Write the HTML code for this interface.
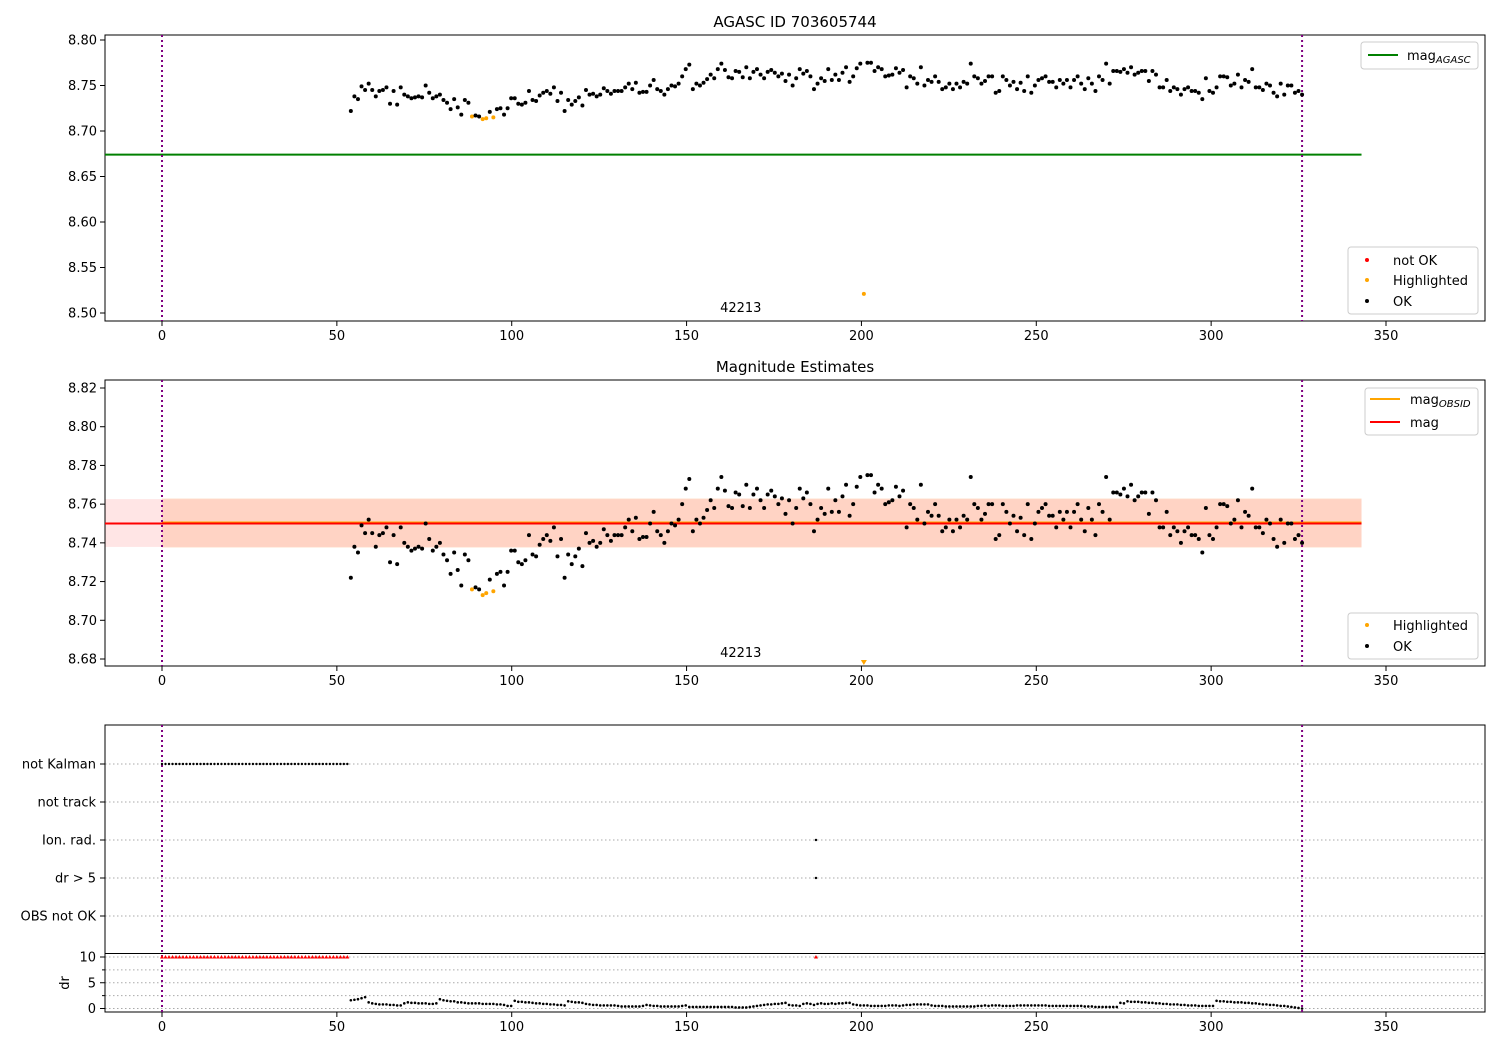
<!DOCTYPE html>
<html><head><meta charset="utf-8"><style>
body{margin:0;background:#fff}
svg{display:block;font-family:"DejaVu Sans","Liberation Sans",sans-serif;font-size:13px}
</style></head><body>
<svg id="fig" width="1500" height="1050" viewBox="0 0 1500 1050"></svg>
<script>
const magValues=[8.722,8.738,8.735,8.749,8.745,8.752,8.745,8.738,8.744,8.745,8.748,8.730,8.744,8.729,8.748,8.740,8.738,8.736,8.737,8.738,8.737,8.750,8.742,8.736,8.738,8.740,8.734,8.731,8.724,8.735,8.726,8.718,8.734,8.731,8.716,8.717,8.716,8.713,8.714,8.721,8.715,8.724,8.725,8.718,8.725,8.736,8.736,8.730,8.729,8.731,8.744,8.734,8.733,8.739,8.742,8.744,8.741,8.748,8.733,8.742,8.722,8.734,8.729,8.733,8.737,8.728,8.745,8.740,8.741,8.738,8.740,8.747,8.744,8.741,8.744,8.744,8.744,8.748,8.752,8.746,8.753,8.742,8.743,8.743,8.750,8.756,8.746,8.744,8.740,8.746,8.750,8.749,8.752,8.760,8.768,8.773,8.746,8.752,8.750,8.753,8.757,8.762,8.758,8.768,8.774,8.767,8.759,8.758,8.766,8.765,8.759,8.770,8.758,8.765,8.768,8.762,8.758,8.765,8.767,8.764,8.760,8.763,8.755,8.762,8.750,8.758,8.768,8.763,8.766,8.760,8.746,8.752,8.758,8.755,8.768,8.756,8.762,8.756,8.764,8.770,8.754,8.760,8.769,8.774,8.521,8.775,8.775,8.766,8.770,8.768,8.760,8.761,8.762,8.769,8.764,8.767,8.748,8.760,8.758,8.752,8.770,8.750,8.756,8.754,8.760,8.754,8.746,8.748,8.752,8.746,8.752,8.748,8.754,8.752,8.774,8.760,8.758,8.752,8.755,8.760,8.760,8.742,8.744,8.760,8.756,8.750,8.754,8.746,8.753,8.744,8.760,8.742,8.750,8.756,8.758,8.760,8.754,8.754,8.748,8.756,8.752,8.756,8.748,8.756,8.760,8.752,8.746,8.758,8.752,8.744,8.760,8.756,8.774,8.752,8.766,8.766,8.765,8.768,8.764,8.770,8.762,8.764,8.766,8.766,8.755,8.766,8.762,8.748,8.748,8.756,8.744,8.748,8.746,8.740,8.746,8.748,8.744,8.744,8.742,8.735,8.758,8.744,8.742,8.748,8.760,8.760,8.759,8.750,8.752,8.762,8.748,8.756,8.754,8.768,8.748,8.748,8.745,8.752,8.750,8.742,8.738,8.752,8.740,8.750,8.750,8.742,8.744,8.740];
const highlightIdx=[34,37,38,40,144];
const drValues=[1.6,1.7,1.8,2.0,2.2,1.2,1.0,0.9,0.8,0.8,0.8,0.7,0.7,0.6,0.6,1.0,1.2,1.1,1.1,1.0,1.0,1.0,0.9,0.9,1.0,1.8,1.6,1.5,1.4,1.4,1.2,1.2,1.1,1.0,1.0,1.0,1.0,0.9,0.9,0.9,0.9,0.8,0.8,0.7,0.5,0.5,1.5,1.3,1.3,1.2,1.2,1.1,1.0,1.0,0.9,0.9,0.8,0.8,0.7,0.7,0.6,1.4,1.3,1.2,1.2,1.1,0.9,0.8,0.7,0.7,0.6,0.6,0.6,0.6,0.6,0.5,0.4,0.4,0.4,0.4,0.4,0.4,0.5,0.7,0.6,0.5,0.5,0.4,0.4,0.4,0.4,0.4,0.4,0.5,0.6,0.3,0.3,0.3,0.3,0.3,0.3,0.3,0.3,0.3,0.3,0.3,0.3,0.3,0.2,0.2,0.2,0.2,0.3,0.4,0.5,0.6,0.7,0.8,0.8,0.9,0.9,1.0,1.1,0.7,0.6,0.6,0.5,0.9,1.0,0.9,0.7,0.9,1.0,0.9,0.9,1.0,0.9,1.0,1.0,1.1,1.1,0.8,0.7,0.6,0.6,0.6,0.5,0.5,0.5,0.5,0.5,0.6,0.6,0.6,0.5,0.6,0.7,0.7,0.8,0.8,0.8,0.8,0.8,0.6,0.5,0.5,0.5,0.4,0.4,0.4,0.4,0.4,0.4,0.4,0.4,0.4,0.5,0.5,0.6,0.5,0.6,0.6,0.6,0.5,0.5,0.5,0.5,0.6,0.6,0.6,0.6,0.6,0.6,0.6,0.6,0.6,0.5,0.5,0.5,0.5,0.5,0.5,0.5,0.5,0.5,0.5,0.4,0.4,0.4,0.3,0.3,0.3,0.3,0.3,0.3,0.3,1.1,1.0,1.4,1.3,1.3,1.3,1.2,1.2,1.1,1.1,1.0,1.0,0.9,0.9,0.8,0.8,0.8,0.7,0.7,0.6,0.6,0.6,0.5,0.5,0.5,0.5,0.5,1.5,1.4,1.4,1.3,1.3,1.2,1.2,1.2,1.1,1.1,1.0,1.0,0.9,0.8,0.8,0.7,0.7,0.6,0.5,0.5,0.4,0.3,0.2,0.1,0.0];
const timeStart=54, timeEnd=326;
const notKalmanTimes=[0,1,2,3,4,5,6,7,8,9,10,11,12,13,14,15,16,17,18,19,20,21,22,23,24,25,26,27,28,29,30,31,32,33,34,35,36,37,38,39,40,41,42,43,44,45,46,47,48,49,50,51,52,53];
const ionRadTimes=[187];
const drBigTimes=[187];
const xTicks=[0,50,100,150,200,250,300,350];
const p1Ticks=[8.50,8.55,8.60,8.65,8.70,8.75,8.80];
const p2Ticks=[8.68,8.70,8.72,8.74,8.76,8.78,8.80,8.82];
const categories=["not Kalman","not track","Ion. rad.","dr > 5","OBS not OK"];
const drTicks=[0,5,10];
const magAgasc=8.674, magMean=8.750, magObsid=8.7505, magLo=8.7379, magHi=8.7626, obsLo=8.7375, obsHi=8.763;
const obsidLabel="42213", obsidTime=165.5;

const NS="http://www.w3.org/2000/svg";
const svg=document.getElementById('fig');
function el(tag,attrs,parent){const e=document.createElementNS(NS,tag);for(const k in attrs)e.setAttribute(k,attrs[k]);(parent||svg).appendChild(e);return e;}
const L=105,R=1485;
const X=t=>162+(t-0)*(1386-162)/350;
const y1=v=>40+(8.80-v)*(313-40)/0.30;
const y2=v=>388+(8.82-v)*(659-388)/0.14;
const catY=i=>764+i*38;
const yDr=v=>1008.5-v*(1008.5-957)/10;
const n=magValues.length;
const tOf=i=>timeStart+i*(timeEnd-timeStart)/(n-1);
const nd=drValues.length;
const tDr=i=>timeStart+i*(timeEnd-timeStart)/(nd-1);

function xAxis(top,bottom,name){
  xTicks.forEach(t=>{
    el('line',{x1:X(t),x2:X(t),y1:bottom,y2:bottom+5,stroke:'#000'});
    const tx=el('text',{x:X(t),y:bottom+19,'text-anchor':'middle'});tx.textContent=t;
    
    
  });
}
function frame(top,bottom,name){
  const r=el('rect',{x:L,y:top,width:R-L,height:bottom-top,fill:'none',stroke:'#000','stroke-width':1});
  
  
}
function vlines(top,bottom){
  [0,326].forEach(t=>{const l=el('line',{x1:X(t),x2:X(t),y1:top,y2:bottom,stroke:'purple','stroke-width':2,'stroke-dasharray':'2,3'});
    
    });
}
function yTicks(ticks,f,name){
  ticks.forEach(v=>{el('line',{x1:L-5,x2:L,y1:f(v),y2:f(v),stroke:'#000'});
    const tx=el('text',{x:L-8,y:f(v)+4.5,'text-anchor':'end'});tx.textContent=v.toFixed(2);
    
    });
}
function legendBox(x,y,w,h){el('rect',{x:x,y:y,width:w,height:h,rx:3,fill:'#fff','fill-opacity':0.8,stroke:'#ccc'});}
function title(txt,y){const t=el('text',{x:795,y:y,'text-anchor':'middle','font-size':'15px'});t.textContent=txt;return t;}

// Panel 1
let t=title('AGASC ID 703605744',27);


frame(35,321,'agasc-panel');
yTicks(p1Ticks,y1,'agasc');xAxis(35,321,'agasc');
let gl=el('line',{x1:L,x2:X(343),y1:y1(magAgasc),y2:y1(magAgasc),stroke:'green','stroke-width':2});


vlines(35,321);
magValues.forEach((v,i)=>{const c=el('circle',{cx:X(tOf(i)),cy:y1(v),r:2,fill:highlightIdx.includes(i)?'orange':'#000'});
  
  });
t=el('text',{x:X(obsidTime),y:312,'text-anchor':'middle'});t.textContent=obsidLabel;


legendBox(1361,42,117,27);
el('line',{x1:1368,x2:1398,y1:55,y2:55,stroke:'green','stroke-width':2});
t=el('text',{x:1407,y:60});t.innerHTML='mag<tspan font-size="10px" font-style="italic" dy="3">AGASC</tspan>';


legendBox(1348,247,130,67);
[['not OK','red',260],['Highlighted','orange',280],['OK','#000',301]].forEach(([lab,col,yy])=>{
  el('circle',{cx:1367,cy:yy,r:2,fill:col});
  const tx=el('text',{x:1393,y:yy+5});tx.textContent=lab;
  
  });

// Panel 2
t=title('Magnitude Estimates',372);


el('rect',{x:L,y:y2(magHi),width:X(343)-L,height:y2(magLo)-y2(magHi),fill:'red','fill-opacity':0.1});
el('rect',{x:X(0),y:y2(obsHi),width:X(343)-X(0),height:y2(obsLo)-y2(obsHi),fill:'#ff8c40','fill-opacity':0.2});
frame(380,666,'estimates-panel');
yTicks(p2Ticks,y2,'estimates');xAxis(380,666,'estimates');
el('line',{x1:X(0),x2:X(343),y1:y2(magObsid),y2:y2(magObsid),stroke:'orange','stroke-width':2});
let rl=el('line',{x1:L,x2:X(343),y1:y2(magMean),y2:y2(magMean),stroke:'red','stroke-width':2});


vlines(380,666);
magValues.forEach((v,i)=>{const hl=highlightIdx.includes(i);const xx=X(tOf(i));
  if(v<8.6764){const p=el('path',{d:`M${xx-3},660 L${xx+3},660 L${xx},665 Z`,fill:'orange'});
    
    return;}
  const c=el('circle',{cx:xx,cy:y2(v),r:2,fill:hl?'orange':'#000'});
  
  });
t=el('text',{x:X(obsidTime),y:657,'text-anchor':'middle'});t.textContent=obsidLabel;


legendBox(1365,388,113,47);
el('line',{x1:1370,x2:1400,y1:399,y2:399,stroke:'orange','stroke-width':2});
el('line',{x1:1370,x2:1400,y1:422,y2:422,stroke:'red','stroke-width':2});
t=el('text',{x:1410,y:404});t.innerHTML='mag<tspan font-size="10px" font-style="italic" dy="3">OBSID</tspan>';


t=el('text',{x:1410,y:427});t.textContent='mag';


legendBox(1348,613,130,46);
[['Highlighted','orange',625],['OK','#000',646]].forEach(([lab,col,yy])=>{
  el('circle',{cx:1367,cy:yy,r:2,fill:col});
  const tx=el('text',{x:1393,y:yy+5});tx.textContent=lab;
  
  });

// Panel 3
categories.forEach((c,i)=>{el('line',{x1:L,x2:R,y1:catY(i),y2:catY(i),stroke:'#aaa','stroke-dasharray':'1.5,2.5'});
  el('line',{x1:L-5,x2:L,y1:catY(i),y2:catY(i),stroke:'#000'});
  const tx=el('text',{x:L-9,y:catY(i)+4.5,'text-anchor':'end'});tx.textContent=c;
  
  });
[0,2.5,5,7.5,10].forEach(v=>{const major=drTicks.includes(v);
  el('line',{x1:L,x2:R,y1:yDr(v),y2:yDr(v),stroke:'#aaa','stroke-dasharray':'1.5,2.5'});
  el('line',{x1:L-(major?5:3),x2:L,y1:yDr(v),y2:yDr(v),stroke:'#000'});
  if(major){const tx=el('text',{x:L-9,y:yDr(v)+4.5,'text-anchor':'end'});tx.textContent=v;
    
    }});
frame(725,1012,'flags-panel');
el('line',{x1:L,x2:R,y1:953.5,y2:953.5,stroke:'#000'});
xAxis(725,1012,'flags');
t=el('text',{x:0,y:0,'text-anchor':'middle',transform:'translate(69,983) rotate(-90)'});t.textContent='dr';


vlines(725,1012);
notKalmanTimes.forEach(tt=>{const c=el('circle',{cx:X(tt),cy:catY(0),r:1.2,fill:'#000'});
  
  
  const p=el('path',{d:`M${X(tt)-2},${yDr(10)+1.5} L${X(tt)+2},${yDr(10)+1.5} L${X(tt)},${yDr(10)-2} Z`,fill:'red'});
  
  });
ionRadTimes.forEach(tt=>{const c=el('circle',{cx:X(tt),cy:catY(2),r:1.2,fill:'#000'});
  
  });
drBigTimes.forEach(tt=>{const c=el('circle',{cx:X(tt),cy:catY(3),r:1.2,fill:'#000'});
  
  
  const p=el('path',{d:`M${X(tt)-2},${yDr(10)+1.5} L${X(tt)+2},${yDr(10)+1.5} L${X(tt)},${yDr(10)-2} Z`,fill:'red'});
  
  });
drValues.forEach((v,i)=>{const c=el('circle',{cx:X(tDr(i)),cy:yDr(v),r:1.3,fill:'#000'});
  
  });
</script>
</body></html>
